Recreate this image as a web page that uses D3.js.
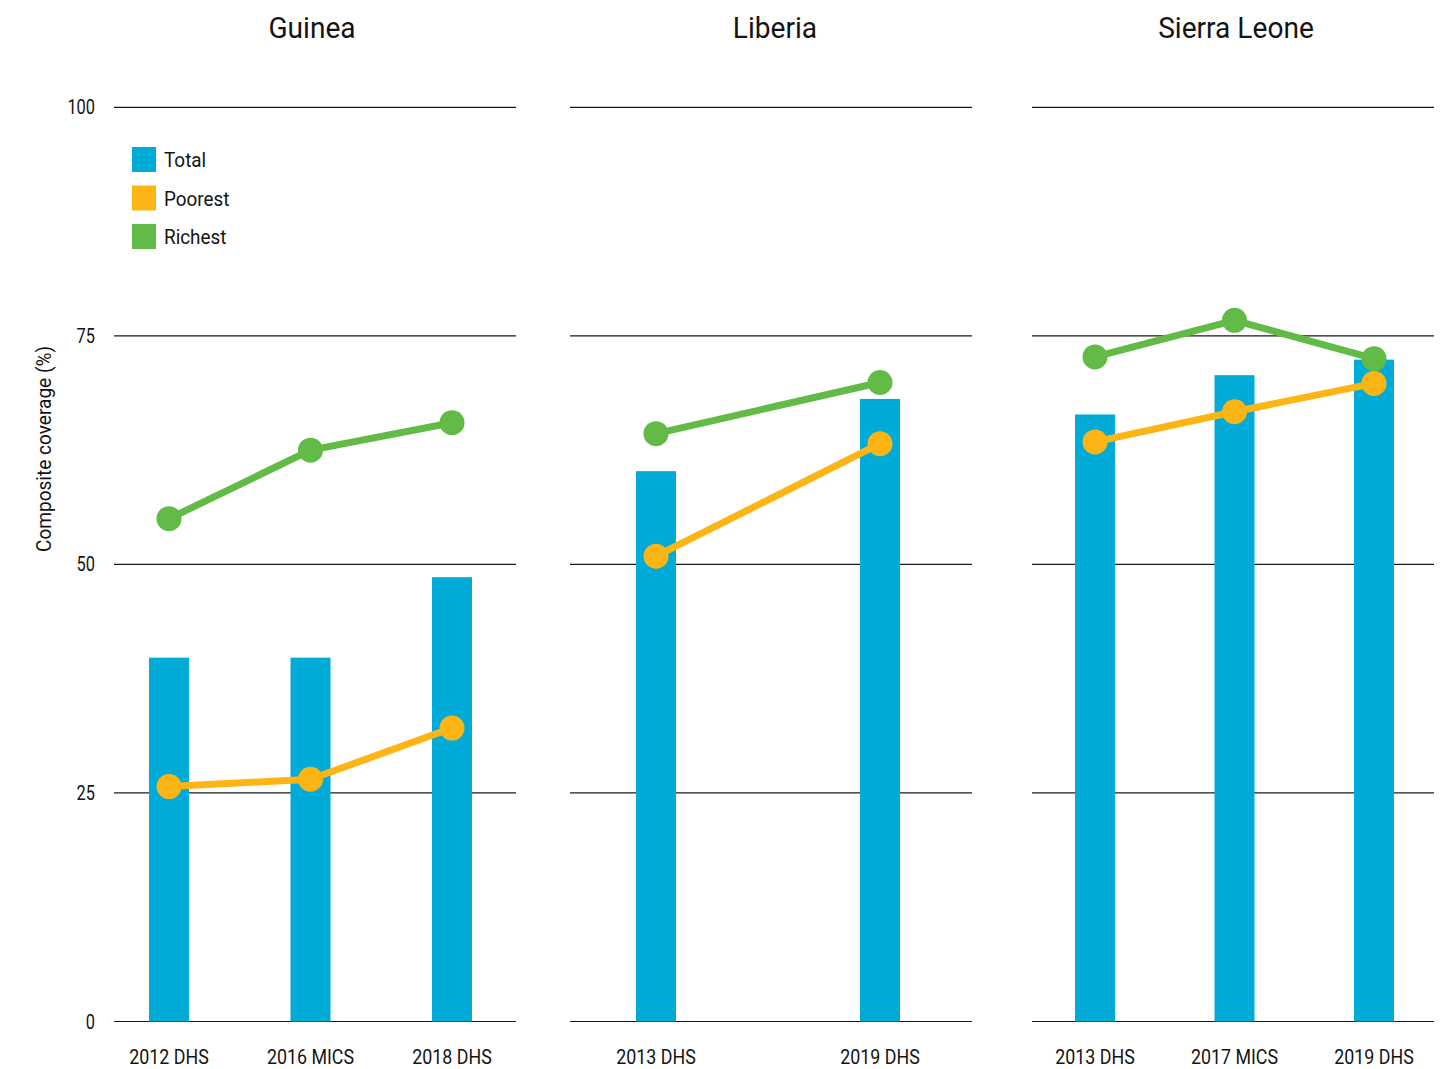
<!DOCTYPE html>
<html>
<head>
<meta charset="utf-8">
<script src="https://cdn.jsdelivr.net/npm/d3@7"></script>
<style>
  html, body { margin: 0; padding: 0; background: #fff; }
  svg text { font-family: Roboto, "Liberation Sans", sans-serif; fill: #141414; }
</style>
</head>
<body>
<svg id="chart" width="1447" height="1069"></svg>
<script>
// ---------- data ----------
const countries = ["Guinea", "Liberia", "Sierra Leone"];
const surveys = [
  ["2012 DHS", "2016 MICS", "2018 DHS"],
  ["2013 DHS", "2019 DHS"],
  ["2013 DHS", "2017 MICS", "2019 DHS"]
];
const totalValues = [
  [39.8, 39.8, 48.6],
  [60.2, 68.1],
  [66.4, 70.7, 72.4]
];
const poorestValues = [
  [25.7, 26.5, 32.1],
  [50.9, 63.2],
  [63.4, 66.7, 69.8]
];
const richestValues = [
  [55.0, 62.5, 65.5],
  [64.3, 69.9],
  [72.7, 76.7, 72.5]
];
const yTicks = [0, 25, 50, 75, 100];
const seriesNames = ["Total", "Poorest", "Richest"];
const seriesColors = ["#00acd7", "#fdb515", "#62bb46"];
const yAxisTitle = "Composite coverage (%)";

// ---------- layout ----------
const panelLayout = [
  { left: 114, right: 516, inner: [169, 452], titleX: 312 },
  { left: 570, right: 972, inner: [656, 880], titleX: 775 },
  { left: 1032, right: 1434, inner: [1095, 1374], titleX: 1236 }
];
const barWidth = 40;
const svg = d3.select("#chart");
const y = d3.scaleLinear().domain([0, 100]).range([1021.5, 107.3]);

function ctext(parent, x, yy, str, size, sx, anchor) {
  const g = parent.append("g").attr("transform", `translate(${x},${yy}) scale(${sx},1)`);
  return g.append("text").attr("x", 0).attr("y", 0)
    .attr("font-size", size).attr("text-anchor", anchor || "start").text(str);
}

countries.forEach((country, ci) => {
  const L = panelLayout[ci];
  const g = svg.append("g");
  const x = d3.scalePoint().domain(surveys[ci]).range(L.inner).padding(0);

  // gridlines
  g.selectAll("line.grid").data(yTicks).join("line")
    .attr("x1", L.left).attr("x2", L.right)
    .attr("y1", d => y(d)).attr("y2", d => y(d))
    .attr("stroke", "#1a1a1a").attr("stroke-width", 1.2);

  // title
  ctext(g, L.titleX, 38, country, 29, 0.97, "middle");

  // bars
  g.selectAll("rect.bar").data(surveys[ci]).join("rect")
    .attr("x", d => x(d) - barWidth / 2)
    .attr("width", barWidth)
    .attr("y", (d, i) => y(totalValues[ci][i]))
    .attr("height", (d, i) => y(0) - y(totalValues[ci][i]))
    .attr("fill", seriesColors[0]);

  // x labels
  surveys[ci].forEach(s => ctext(g, x(s), 1064, s, 21, 0.85, "middle"));

  // lines + points
  [[poorestValues, seriesColors[1]], [richestValues, seriesColors[2]]].forEach(([vals, col]) => {
    const pts = surveys[ci].map((s, i) => [x(s), y(vals[ci][i])]);
    g.append("path").attr("d", d3.line()(pts))
      .attr("fill", "none").attr("stroke", col).attr("stroke-width", 7)
      .attr("stroke-linejoin", "round");
    g.selectAll(null).data(pts).join("circle")
      .attr("cx", d => d[0]).attr("cy", d => d[1]).attr("r", 12.5)
      .attr("fill", col);
  });
});

// y tick labels
yTicks.forEach(t => {
  ctext(svg, 95, y(t) + 7, String(t), 20, 0.82, "end");
});

// y axis title
const yt = svg.append("g").attr("transform", "translate(51,449) rotate(-90) scale(0.93,1)");
yt.append("text").attr("text-anchor", "middle").attr("font-size", 20.5).text(yAxisTitle);

// legend
seriesNames.forEach((n, i) => {
  const yy = 147 + i * 38.5;
  svg.append("rect").attr("x", 132).attr("y", yy).attr("width", 24).attr("height", 25)
    .attr("fill", seriesColors[i]);
  ctext(svg, 164, yy + 20, n, 21, 0.9, "start");
});
</script>
</body>
</html>
